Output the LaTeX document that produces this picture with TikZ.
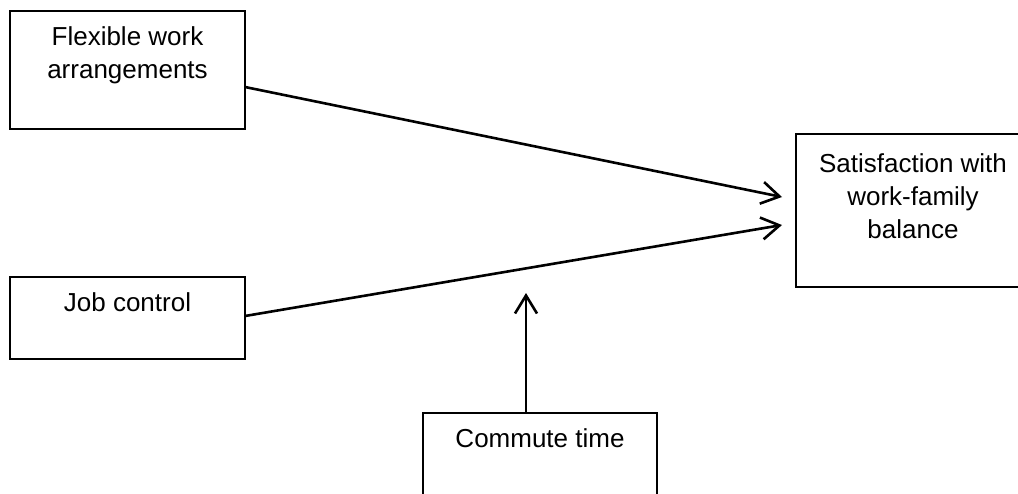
\documentclass[tikz,border=0pt]{standalone}
\usepackage{fontspec}
\setmainfont{Liberation Sans}
\usetikzlibrary{arrows.meta}
\begin{document}
\begin{tikzpicture}[x=1pt,y=-1pt,
  boxframe/.style={draw=black,line width=1.8pt,fill=white,inner sep=0pt,outer sep=0pt},
  boxtext/.style={align=center,inner sep=0pt,font=\fontsize{26}{33}\selectfont},
  path/.style={draw=black,line width=2.6pt,-{Straight Barb[length=18pt,width=22pt,line width=2.6pt]}}]
  \useasboundingbox (0,0) rectangle (1018,493);
  \fill[white] (0,0) rectangle (1018,493);

  % boxes
  \node[boxframe,minimum width=235pt,minimum height=118pt] (flex) at (127.5,70) {};
  \node[boxframe,minimum width=235pt,minimum height=82pt] (job) at (127.5,318) {};
  \node[boxframe,minimum width=234pt,minimum height=153pt] (sat) at (913,210.5) {};
  \node[boxframe,minimum width=234pt,minimum height=120pt] (comm) at (540,473) {};

  % texts
  \node[boxtext] (flextxt) at (127.5,55) {Flexible work\\arrangements};
  \node[boxtext] (jobtxt) at (127.5,302) {Job control};
  \node[boxtext] (sattxt) at (913,196) {Satisfaction with\\work-family\\balance};
  \node[boxtext] (commtxt) at (540,438) {Commute time};

  % connector ends
  \coordinate (flexout) at (flex.north east |- 0,87);
  \coordinate (jobout) at (job.north east |- 0,316);
  \coordinate (satin1) at (782,197);
  \coordinate (satin2) at (782,225);
  \coordinate (commout) at (comm.north |- 0,413);
  \coordinate (modtip) at (526,293);

  % connectors
  \draw[path] (flexout) -- (satin1);
  \draw[path] (jobout) -- (satin2);
  \draw[path] (commout -| modtip) -- (modtip);
\end{tikzpicture}
\end{document}
